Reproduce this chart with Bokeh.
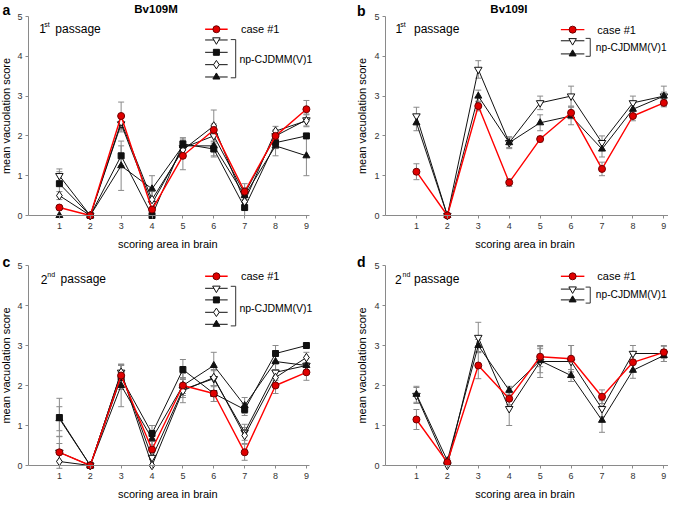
import math
from bokeh.plotting import figure
from bokeh.layouts import column, row
from bokeh.models import Range1d, Label, Whisker, TeeHead, ColumnDataSource, FixedTicker
from bokeh.embed import file_html
from bokeh.resources import INLINE

FONT = "Liberation Sans"

# ---------------- data ----------------
areas = [1, 2, 3, 4, 5, 6, 7, 8, 9]
x_ticks = [1, 2, 3, 4, 5, 6, 7, 8, 9]
y_ticks = [0, 1, 2, 3, 4, 5]

# panel a : Bv109M, 1st passage
a_case = [0.2, 0.0, 2.5, 0.15, 1.5, 2.15, 0.6, 2.0, 2.67]
a_case_err = [0.0, 0.0, 0.35, 0.0, 0.35, 0.15, 0.1, 0.12, 0.22]
a_np1 = [1.0, 0.0, 2.3, 0.3, 1.7, 2.0, 0.55, 2.0, 2.4]
a_np1_err = [0.17, 0.0, 0.2, 0.1, 0.2, 0.2, 0.15, 0.15, 0.15]
a_np2 = [0.8, 0.0, 1.5, 0.0, 1.8, 1.67, 0.2, 1.83, 2.0]
a_np2_err = [0.3, 0.0, 0.25, 0.0, 0.15, 0.2, 0.2, 0.15, 0.0]
a_np3 = [0.5, 0.0, 2.35, 0.4, 1.65, 2.25, 0.35, 2.12, 2.38]
a_np3_err = [0.1, 0.0, 0.15, 0.2, 0.1, 0.4, 0.2, 0.12, 0.15]
a_np4 = [0.0, 0.0, 1.25, 0.67, 1.75, 1.75, 0.5, 1.75, 1.5]
a_np4_err = [0.0, 0.0, 0.62, 0.33, 0.2, 0.25, 0.3, 0.25, 0.5]

# panel b : Bv109I, 1st passage
b_case = [1.1, 0.0, 2.75, 0.83, 1.92, 2.58, 1.17, 2.5, 2.83]
b_case_err = [0.2, 0.0, 0.12, 0.1, 0.07, 0.15, 0.17, 0.12, 0.1]
b_np1 = [2.5, 0.0, 3.67, 1.83, 2.83, 3.0, 1.83, 2.83, 3.0]
b_np1_err = [0.22, 0.0, 0.22, 0.12, 0.17, 0.25, 0.17, 0.17, 0.1]
b_np2 = [2.33, 0.0, 3.0, 1.83, 2.33, 2.5, 1.67, 2.67, 3.0]
b_np2_err = [0.2, 0.0, 0.15, 0.15, 0.2, 0.22, 0.2, 0.15, 0.25]

# panel c : Bv109M, 2nd passage
c_case = [0.33, 0.0, 2.25, 0.4, 2.0, 1.8, 0.33, 2.0, 2.33]
c_case_err = [0.22, 0.0, 0.25, 0.25, 0.3, 0.2, 0.2, 0.2, 0.2]
c_np1 = [0.33, 0.0, 2.33, 0.2, 1.9, 2.17, 0.83, 2.33, 2.5]
c_np1_err = [0.4, 0.0, 0.2, 0.2, 0.15, 0.2, 0.2, 0.2, 0.2]
c_np2 = [1.2, 0.0, 2.2, 0.8, 2.4, 1.8, 1.4, 2.8, 3.0]
c_np2_err = [0.48, 0.0, 0.3, 0.2, 0.25, 0.2, 0.15, 0.2, 0.0]
c_np3 = [0.1, 0.0, 2.33, 0.0, 1.87, 2.2, 0.75, 2.2, 2.7]
c_np3_err = [0.0, 0.0, 0.2, 0.0, 0.3, 0.2, 0.2, 0.2, 0.13]
c_np4 = [1.17, 0.0, 2.0, 0.67, 2.0, 2.5, 1.5, 2.6, 2.5]
c_np4_err = [0.3, 0.0, 0.53, 0.15, 0.2, 0.33, 0.2, 0.2, 0.2]

# panel d : Bv109I, 2nd passage
d_case = [1.15, 0.08, 2.5, 1.67, 2.72, 2.67, 1.72, 2.58, 2.83]
d_case_err = [0.25, 0.0, 0.33, 0.15, 0.25, 0.33, 0.17, 0.2, 0.15]
d_np1 = [1.75, 0.0, 3.2, 1.42, 2.6, 2.6, 1.42, 2.8, 2.8]
d_np1_err = [0.2, 0.0, 0.38, 0.42, 0.4, 0.4, 0.2, 0.2, 0.2]
d_np2 = [1.78, 0.12, 3.0, 1.88, 2.62, 2.25, 1.13, 2.38, 2.75]
d_np2_err = [0.2, 0.05, 0.15, 0.1, 0.3, 0.15, 0.3, 0.2, 0.15]

titles = ["Bv109M", "Bv109I"]
panel_letters = ["a", "b", "c", "d"]
case_label = "case #1"
np_label = "np-CJDMM(V)1"
x_label = "scoring area in brain"
y_label = "mean vacuolation score"

# ---------------- styles ----------------
RED = "#ff0000"
BLACK = "#111111"
GREY = "#8a8a8a"
STYLES = {
    "case": dict(marker="circle", size=7, fill="#e00000", line="#700000", lc=RED, lw=1.4),
    "np1": dict(marker="inverted_triangle", size=7.5, fill="white", line=BLACK, lc=BLACK, lw=1),
    "np2": dict(marker="square", size=6, fill=BLACK, line=BLACK, lc=BLACK, lw=1),
    "np3": dict(marker="diamond", size=8.5, fill="white", line=BLACK, lc=BLACK, lw=1),
    "np4": dict(marker="triangle", size=7, fill=BLACK, line=BLACK, lc=BLACK, lw=1),
}


def make_fig(width, height, bl, br, bt, bb, xend):
    # the plotting frame covers the whole canvas; the axes sit at fixed data locations
    ux = (width - bl - br) / xend
    uy = (height - bt - bb) / 5.0
    xr = Range1d(-bl / ux, xend + br / ux)
    yr = Range1d(-bb / uy, 5 + bt / uy)
    p = figure(width=width, height=height, x_range=xr, y_range=yr,
               output_backend="svg", toolbar_location=None,
               min_border=0, min_border_left=0, min_border_right=0,
               min_border_top=0, min_border_bottom=0)
    p.outline_line_color = None
    p.grid.visible = False
    p.background_fill_color = "white"
    p.border_fill_color = "white"
    for ax in p.axis:
        ax.axis_line_color = GREY
        ax.major_tick_line_color = GREY
        ax.minor_tick_line_color = None
        ax.major_tick_in = 0
        ax.major_tick_out = 3
        ax.major_label_text_font = FONT
        ax.major_label_text_font_size = "9px"
        ax.major_label_text_color = "#333333"
    p.xaxis.ticker = FixedTicker(ticks=x_ticks)
    p.yaxis.ticker = FixedTicker(ticks=y_ticks)
    p.xaxis.fixed_location = 0
    p.yaxis.fixed_location = 0
    p.xaxis.bounds = (0, xend)
    p.yaxis.bounds = (0, 5)
    p.xaxis.major_label_standoff = 4
    p.yaxis.major_label_standoff = 3
    return p


def add_series(p, ys, errs, key):
    st = STYLES[key]
    lo = [y - e for y, e in zip(ys, errs)]
    hi = [y + e for y, e in zip(ys, errs)]
    src = ColumnDataSource(dict(x=areas, y=ys, lo=lo, hi=hi))
    w = Whisker(source=src, base="x", upper="hi", lower="lo", line_color=GREY, line_width=1,
                upper_head=TeeHead(size=6, line_color=GREY, line_width=1),
                lower_head=TeeHead(size=6, line_color=GREY, line_width=1))
    p.add_layout(w)
    p.line("x", "y", source=src, line_color=st["lc"], line_width=st["lw"])
    p.scatter("x", "y", source=src, marker=st["marker"], size=st["size"],
              fill_color=st["fill"], line_color=st["line"], line_width=1)


def txt(p, x, y, text, size="11px", style="normal", align="left", baseline="middle", angle=0.0):
    p.add_layout(Label(x=x, y=y, text=text, text_font=FONT, text_font_size=size,
                       text_font_style=style, text_align=align, text_baseline=baseline,
                       text_color="black", angle=angle))


def legend(p, keys, rows_y, lx0, lx1, tx, bx, btick, by0, by1, npy, npsize="10.5px"):
    xm = (lx0 + lx1) / 2
    for k, yy in zip(keys, rows_y):
        st = STYLES[k]
        p.line([lx0, lx1], [yy, yy], line_color=st["lc"], line_width=st["lw"])
        p.scatter([xm], [yy], marker=st["marker"], size=st["size"], fill_color=st["fill"],
                  line_color=st["line"], line_width=1)
    txt(p, tx, rows_y[0], case_label, size="11px")
    p.line([btick, bx, bx, btick], [by0, by0, by1, by1], line_color="#333333", line_width=1)
    txt(p, tx - 0.05, npy, np_label, size=npsize)


def decorate(p, letter, lx, ly, title, tx, ty, num, sup, nx, sx, px, base_y, ylx):
    txt(p, lx, ly, letter, size="14px", style="bold", baseline="alphabetic")
    if title:
        txt(p, tx, ty, title, size="11.5px", style="bold", align="center", baseline="alphabetic")
    txt(p, nx, base_y, num, size="12px", baseline="alphabetic")
    txt(p, sx, base_y + 0.12, sup, size="7px", baseline="alphabetic")
    txt(p, px, base_y, "passage", size="12px", baseline="alphabetic")
    txt(p, 4.51, -0.72, x_label, size="11px", align="center")
    txt(p, ylx, 2.5, y_label, size="11px", align="center", angle=math.pi / 2)


# ---------------- panels ----------------
pa = make_fig(340, 252, 28, 31, 16, 37, 9.1)
pb = make_fig(328, 252, 45, 0, 16, 37, 9.15)
pc = make_fig(340, 248, 28, 31, 13, 35, 9.1)
pd = make_fig(328, 248, 45, 0, 13, 35, 9.15)

for p, series in [
    (pa, [(a_np1, a_np1_err, "np1"), (a_np2, a_np2_err, "np2"), (a_np3, a_np3_err, "np3"),
          (a_np4, a_np4_err, "np4"), (a_case, a_case_err, "case")]),
    (pb, [(b_np1, b_np1_err, "np1"), (b_np2, b_np2_err, "np4"), (b_case, b_case_err, "case")]),
    (pc, [(c_np1, c_np1_err, "np1"), (c_np2, c_np2_err, "np2"), (c_np3, c_np3_err, "np3"),
          (c_np4, c_np4_err, "np4"), (c_case, c_case_err, "case")]),
    (pd, [(d_np1, d_np1_err, "np1"), (d_np2, d_np2_err, "np4"), (d_case, d_case_err, "case")]),
]:
    for ys, es, k in series:
        add_series(p, ys, es, k)

legend(pa, ["case", "np1", "np2", "np3", "np4"], [4.68, 4.41, 4.10, 3.79, 3.48],
       5.72, 6.45, 6.88, 6.71, 6.55, 4.42, 3.46, 3.94)
legend(pb, ["case", "np1", "np4"], [4.67, 4.39, 4.06],
       5.67, 6.43, 6.85, 6.62, 6.47, 4.45, 4.0, 4.22, npsize="10.2px")
legend(pc, ["case", "np1", "np2", "np3", "np4"], [4.73, 4.43, 4.14, 3.83, 3.53],
       5.72, 6.45, 6.88, 6.71, 6.55, 4.48, 3.49, 3.95)
legend(pd, ["case", "np1", "np4"], [4.73, 4.41, 4.14],
       5.67, 6.43, 6.85, 6.62, 6.47, 4.46, 4.06, 4.27, npsize="10.2px")

decorate(pa, panel_letters[0], -0.84, 5.16, titles[0], 4.13, 5.2, "1", "st", 0.35, 0.51, 0.87, 4.69, -0.74)
decorate(pb, panel_letters[1], -0.92, 5.15, titles[1], 3.99, 5.2, "1", "st", 0.32, 0.48, 0.92, 4.69, -0.77)
decorate(pc, panel_letters[2], -0.84, 5.08, None, 0, 0, "2", "nd", 0.40, 0.61, 1.04, 4.66, -0.74)
decorate(pd, panel_letters[3], -0.92, 5.08, None, 0, 0, "2", "nd", 0.31, 0.55, 0.92, 4.66, -0.77)

layout = column(row(pa, pb), row(pc, pd))

open("out.html", "w").write(file_html(layout, INLINE))
